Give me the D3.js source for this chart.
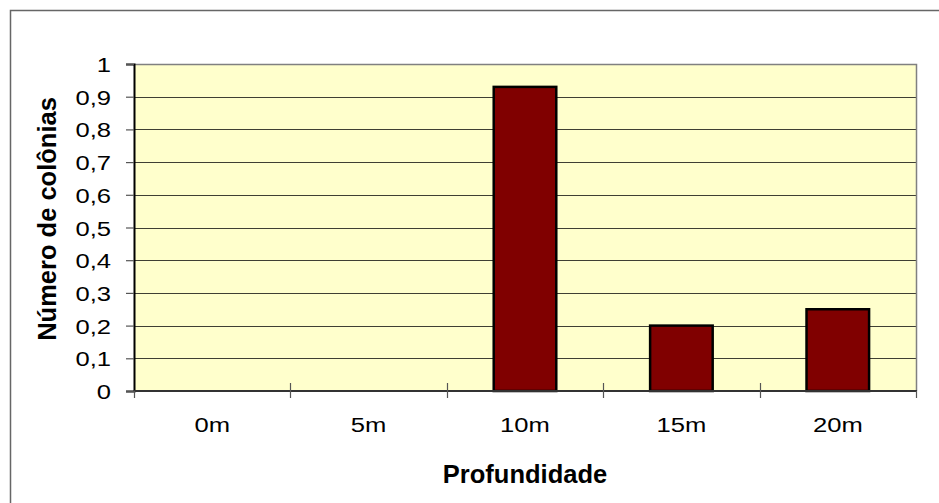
<!DOCTYPE html>
<html>
<head>
<meta charset="utf-8">
<script src="https://cdn.jsdelivr.net/npm/d3@7"></script>
<style>
  html, body { margin: 0; padding: 0; background: #fff; }
  svg { display: block; font-family: "Liberation Sans", Arial, sans-serif; }
</style>
</head>
<body>
<svg id="chart" width="939" height="503"></svg>
<script>
// Depth categories and colony counts
const categories = ["0m", "5m", "10m", "15m", "20m"];
const colonies = [0, 0, 0.93, 0.2, 0.25];
const yTicks = [0, 0.1, 0.2, 0.3, 0.4, 0.5, 0.6, 0.7, 0.8, 0.9, 1];
const xTitle = "Profundidade";
const yTitle = "Número de colônias";

const svg = d3.select("#chart");
const W = 939, H = 503;
const plot = { left: 134, right: 916, top: 64, bottom: 391 };
const labelSize = 21;      // tick label font size
const labelStretch = 1.22; // horizontal widening of tick labels
const titleSize = 25.5;

// Outer chart frame
svg.append("rect")
  .attr("x", 10.5).attr("y", 10.5)
  .attr("width", W).attr("height", H)
  .attr("fill", "#fff").attr("stroke", "#666").attr("stroke-width", 1.5);

const x = d3.scaleBand()
  .domain(categories)
  .range([plot.left, plot.right])
  .paddingInner(0.6).paddingOuter(0.3);

const xEdges = d3.scaleLinear().domain([0, categories.length]).range([plot.left, plot.right]);

const y = d3.scaleLinear().domain([0, 1]).range([plot.bottom, plot.top]);

// Plot background
svg.append("rect")
  .attr("x", plot.left).attr("y", plot.top)
  .attr("width", plot.right - plot.left).attr("height", plot.bottom - plot.top)
  .attr("fill", "#FFFFCC");

// Horizontal gridlines
svg.append("g")
  .selectAll("line")
  .data(yTicks.filter(d => d > 0 && d < 1))
  .join("line")
  .attr("x1", plot.left).attr("x2", plot.right)
  .attr("y1", d => Math.round(y(d)) + 0.5).attr("y2", d => Math.round(y(d)) + 0.5)
  .attr("stroke", "#000").attr("stroke-width", 1).attr("opacity", 0.75);

// Plot frame (top and right edges)
svg.append("path")
  .attr("d", `M${plot.left},${y(1) + 0.5}H${plot.right + 0.5}V${plot.bottom}`)
  .attr("fill", "none").attr("stroke", "#808080").attr("stroke-width", 1.5);

// Bars
svg.append("g")
  .selectAll("rect")
  .data(categories.map((c, i) => ({ c, v: colonies[i] })).filter(d => d.v > 0))
  .join("rect")
  .attr("x", d => x(d.c))
  .attr("y", d => y(d.v))
  .attr("width", x.bandwidth())
  .attr("height", d => y(0) - y(d.v))
  .attr("fill", "#800000")
  .attr("stroke", "#000").attr("stroke-width", 2.5);

// Y axis
const yAxis = d3.axisLeft(y)
  .tickValues(yTicks)
  .tickSize(8)
  .tickFormat(d => d3.format(".1~f")(d).replace(".", ","));
const gy = svg.append("g")
  .attr("transform", `translate(${plot.left},0)`)
  .call(yAxis);
gy.select(".domain").attr("stroke", "#000").attr("stroke-width", 2);
gy.selectAll(".tick line").attr("stroke", "#555").attr("stroke-width", 1.2);
gy.selectAll(".tick text")
  .attr("x", 0)
  .attr("dy", "0.36em")
  .attr("transform", `translate(-23,0) scale(${labelStretch},1)`)
  .attr("fill", "#000")
  .style("font-size", labelSize + "px")
  .style("font-family", "'Liberation Sans', Arial, sans-serif");

// X axis baseline
svg.append("line")
  .attr("x1", plot.left).attr("x2", plot.right + 1)
  .attr("y1", plot.bottom).attr("y2", plot.bottom)
  .attr("stroke", "#333").attr("stroke-width", 2);

// X category boundary ticks
svg.append("g")
  .selectAll("line")
  .data(d3.range(categories.length + 1))
  .join("line")
  .attr("x1", d => Math.round(xEdges(d)) + 0.5).attr("x2", d => Math.round(xEdges(d)) + 0.5)
  .attr("y1", d => (d === 0 || d === categories.length) ? plot.bottom : plot.bottom - 8)
  .attr("y2", plot.bottom + 7)
  .attr("stroke", "#555").attr("stroke-width", 1.2);

// X category labels
svg.append("g")
  .selectAll("text")
  .data(categories)
  .join("text")
  .attr("transform", d => `translate(${x(d) + x.bandwidth() / 2},432) scale(${labelStretch},1)`)
  .attr("text-anchor", "middle")
  .style("font-size", labelSize + "px")
  .text(d => d);

// Axis titles
svg.append("text")
  .attr("x", (plot.left + plot.right) / 2)
  .attr("y", 483)
  .attr("text-anchor", "middle")
  .style("font-size", titleSize + "px").style("font-weight", "bold")
  .text(xTitle);

svg.append("text")
  .attr("transform", `translate(56,219) rotate(-90)`)
  .attr("text-anchor", "middle")
  .style("font-size", titleSize + "px").style("font-weight", "bold")
  .text(yTitle);
</script>
</body>
</html>
